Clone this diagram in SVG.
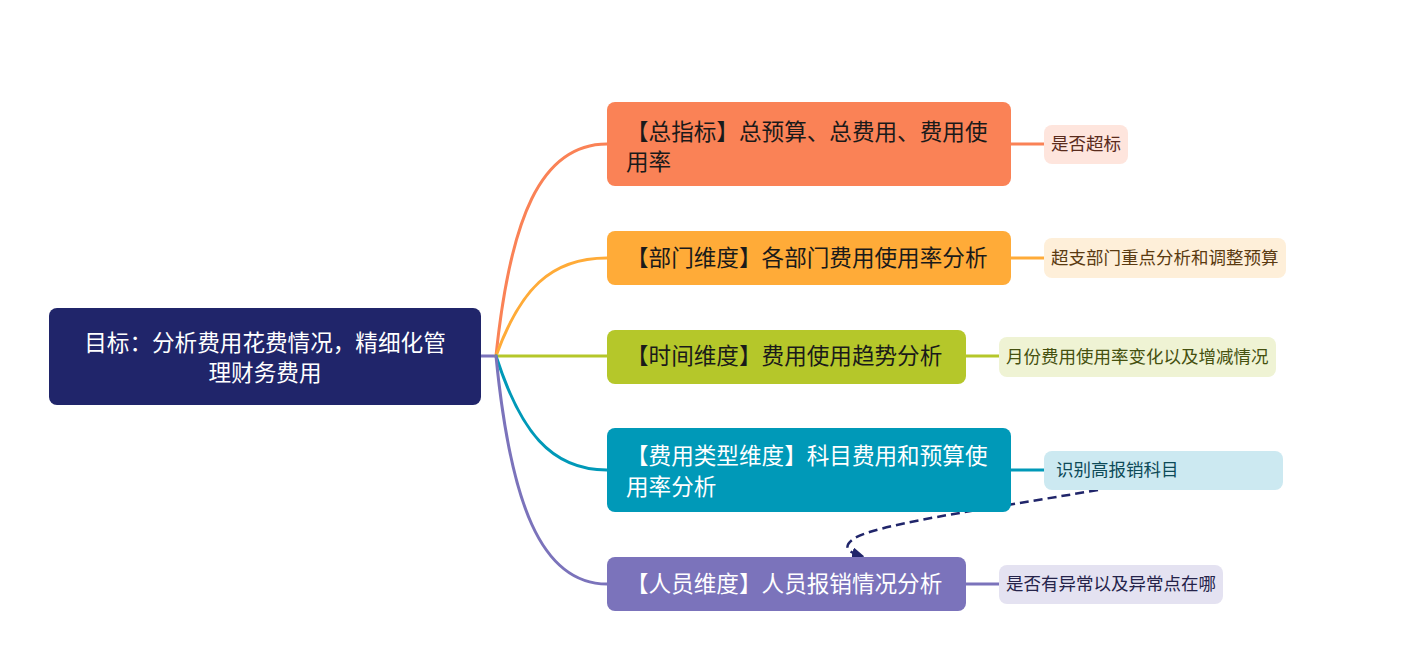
<svg xmlns="http://www.w3.org/2000/svg" width="1417" height="671" viewBox="0 0 1417 671">
<defs>
<style>
text{font-family:"Noto Sans CJK SC","Microsoft YaHei",sans-serif}
.m{font-size:22.6px}
.s{font-size:17.5px}
.c{fill:none;stroke-width:3;stroke-linecap:round}
.w{fill:#ffffff}
.k{fill:#1a1a1a}
</style>
<marker id="ah" viewBox="0 0 10 10" refX="8" refY="5" markerWidth="5" markerHeight="5" orient="auto">
<path d="M0,0 L10,5 L0,10 Z" fill="#20256a"/>
</marker>
</defs>
<rect width="1417" height="671" fill="#ffffff"/>
<g id="connectors">
<path class="c" d="M481,356 L496,356" stroke="#7b73bb"/>
<path class="c" d="M496,356 C510,220 540,144 607,144" stroke="#fa8256"/>
<path class="c" d="M496,356 C520,290 550,258 607,258" stroke="#ffab38"/>
<path class="c" d="M496,356 L607,356" stroke="#b5c72a"/>
<path class="c" d="M496,356 C520,430 550,470 607,470" stroke="#0099b8"/>
<path class="c" d="M496,356 C510,500 540,584 607,584" stroke="#7b73bb"/>
<path class="c" d="M1011,144 L1044,144" stroke="#fa8256" stroke-width="2"/>
<path class="c" d="M1011,258 L1044,258" stroke="#ffab38" stroke-width="2"/>
<path class="c" d="M966,356 L999,356" stroke="#b5c72a" stroke-width="2"/>
<path class="c" d="M1011,470 L1044,470" stroke="#0099b8" stroke-width="2"/>
<path class="c" d="M966,584 L999,584" stroke="#7b73bb" stroke-width="2"/>
<path d="M1098,490 C980,510 870,525 852,540 C842,548 850,553 862,556" fill="none" stroke="#20256a" stroke-width="2.5" stroke-dasharray="9,5" marker-end="url(#ah)"/>
</g>
<g id="root">
<rect x="49" y="308" width="432" height="97" rx="8" fill="#20256a"/>
<text class="m w" x="265" y="351" text-anchor="middle">目标：分析费用花费情况，精细化管</text>
<text class="m w" x="265" y="381" text-anchor="middle">理财务费用</text>
</g>
<g id="n1">
<rect x="607" y="102" width="404" height="84" rx="8" fill="#fa8256"/>
<text class="m k" x="626" y="140">【总指标】总预算、总费用、费用使</text>
<text class="m k" x="626" y="170">用率</text>
</g>
<g id="n2">
<rect x="607" y="231" width="404" height="54" rx="8" fill="#ffab38"/>
<text class="m k" x="626" y="266">【部门维度】各部门费用使用率分析</text>
</g>
<g id="n3">
<rect x="607" y="330" width="359" height="54" rx="8" fill="#b5c72a"/>
<text class="m k" x="626" y="364">【时间维度】费用使用趋势分析</text>
</g>
<g id="n4">
<rect x="607" y="428" width="404" height="84" rx="8" fill="#0099b8"/>
<text class="m w" x="626" y="464">【费用类型维度】科目费用和预算使</text>
<text class="m w" x="626" y="495">用率分析</text>
</g>
<g id="n5">
<rect x="607" y="557" width="359" height="54" rx="8" fill="#7b73bb"/>
<text class="m w" x="626" y="592">【人员维度】人员报销情况分析</text>
</g>
<g id="s1">
<rect x="1044" y="125" width="84" height="39" rx="8" fill="#fee5dd"/>
<text class="s" x="1051" y="150" fill="#5a2b1c">是否超标</text>
</g>
<g id="s2">
<rect x="1044" y="238" width="242" height="40" rx="8" fill="#feefd9"/>
<text class="s" x="1051" y="264" fill="#5a3a10">超支部门重点分析和调整预算</text>
</g>
<g id="s3">
<rect x="999" y="337" width="277" height="40" rx="8" fill="#eff3d4"/>
<text class="s" x="1006" y="363" fill="#45500f">月份费用使用率变化以及增减情况</text>
</g>
<g id="s4">
<rect x="1044" y="451" width="239" height="39" rx="8" fill="#cce9f1"/>
<text class="s" x="1056" y="476" fill="#0d4a58">识别高报销科目</text>
</g>
<g id="s5">
<rect x="999" y="565" width="224" height="39" rx="8" fill="#e4e2f1"/>
<text class="s" x="1006" y="590" fill="#25234a">是否有异常以及异常点在哪</text>
</g>
</svg>
